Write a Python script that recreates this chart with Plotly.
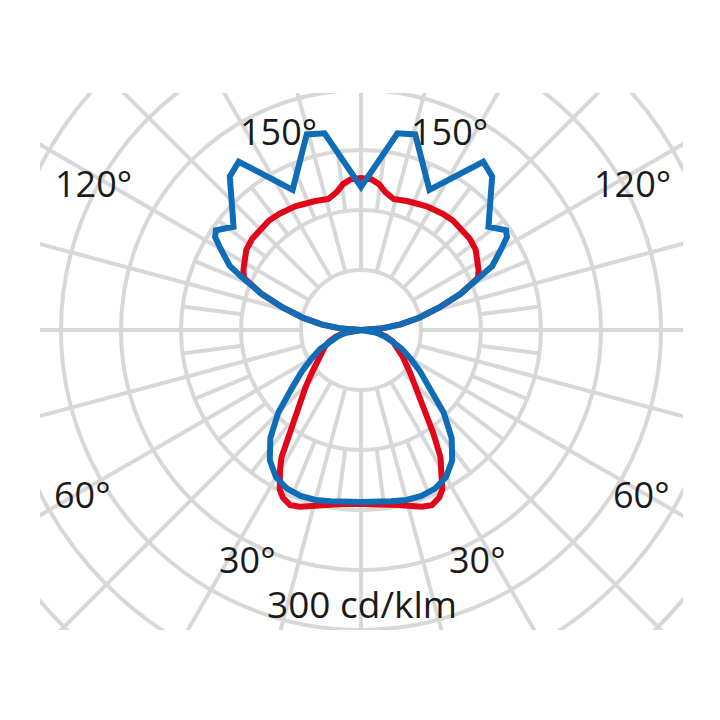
import numpy as np
import plotly.graph_objects as go

# luminous intensity distribution, gamma measured from nadir (deg), values in cd/klm
# one half-plane is given, the other half is its mirror image
RED_GAMMA = [0, 6, 12, 16, 19, 22, 25, 27, 30, 32, 35, 39, 44, 49, 57, 65, 70, 75, 80, 85, 90,
             94, 98, 102, 106, 110, 114, 117, 120, 125, 130, 135, 140, 145, 152, 160, 166,
             170, 173, 176, 180]
RED_CD = [174, 175, 179, 183, 187, 189, 185, 179, 162, 150, 126, 99, 80, 65, 50, 40, 34, 26, 17, 8, 0,
          20, 40, 60, 81, 106, 128, 132, 135, 140, 142, 142, 143, 142, 140, 137, 135,
          140, 147, 151, 152]

BLUE_GAMMA = [0, 5, 10, 15, 20, 25, 30, 35, 40, 45, 50, 55, 60, 65, 70, 75, 80, 85, 90,
              94, 98, 102, 106, 110, 114, 116, 120, 122.5, 124.5, 129, 139.5, 144, 154,
              164.5, 169.5, 180]
BLUE_CD = [172, 173, 174, 176, 176.5, 175, 170, 159, 141, 117, 90, 72, 57, 45, 33, 24, 15, 7, 0,
           20, 40, 60, 81, 106, 131, 146, 162, 173, 176, 164, 202, 208, 156,
           203, 200, 143]

RINGS = [60, 120, 180, 240, 300, 360, 420, 480]
SPOKE_STEP = 15
ANGLE_LABELS = ["150°", "150°", "120°", "120°", "60°", "60°", "30°", "30°"]
SCALE_LABEL = "300 cd/klm"

GRID = "#d8d8d8"
RED = "#e2061b"
BLUE = "#0f6cb6"
TEXT = "#1a1a1a"


def outline(gamma, cd):
    g = np.radians(np.asarray(gamma, dtype=float))
    r = np.asarray(cd, dtype=float)
    xr = r * np.sin(g)
    yr = -r * np.cos(g)
    x = np.concatenate([xr, -xr[::-1]])
    y = np.concatenate([yr, yr[::-1]])
    return x, y


def spoke(angle, r0, r1):
    a = np.radians(angle)
    return dict(
        type="line", xref="x", yref="y", layer="below",
        x0=r0 * np.sin(a), y0=-r0 * np.cos(a),
        x1=r1 * np.sin(a), y1=-r1 * np.cos(a),
        line=dict(color=GRID, width=4),
    )


shapes = []
for r in RINGS:
    shapes.append(dict(
        type="circle", xref="x", yref="y", layer="below",
        x0=-r, x1=r, y0=-r, y1=r,
        line=dict(color=GRID, width=4),
    ))
for a in np.arange(0, 360, SPOKE_STEP):
    shapes.append(spoke(a, RINGS[0], 600))
for a in np.arange(SPOKE_STEP / 2, 360, SPOKE_STEP):
    shapes.append(spoke(a, RINGS[1], RINGS[2]))

fig = go.Figure()

rx, ry = outline(RED_GAMMA, RED_CD)
fig.add_trace(go.Scatter(x=rx, y=ry, mode="lines", line=dict(color=RED, width=6), hoverinfo="skip"))

bx, by = outline(BLUE_GAMMA, BLUE_CD)
fig.add_trace(go.Scatter(x=bx, y=by, mode="lines", line=dict(color=BLUE, width=6), hoverinfo="skip"))

label_pos = [(-83, 199), (88, 199), (-268, 147), (271, 147),
             (-279, -164), (280, -164), (-114, -229), (116, -229)]
annotations = [
    dict(x=x, y=y, xref="x", yref="y", text=t, showarrow=False,
         xanchor="center", yanchor="middle",
         font=dict(family="Open Sans", size=36, color=TEXT))
    for t, (x, y) in zip(ANGLE_LABELS, label_pos)
]
annotations.append(dict(
    x=1, y=-273, xref="x", yref="y", text=SCALE_LABEL, showarrow=False,
    xanchor="center", yanchor="middle",
    font=dict(family="Open Sans", size=37, color=TEXT),
))

fig.update_layout(
    width=720,
    height=720,
    margin=dict(l=32, r=45, t=85, b=98),
    paper_bgcolor="white",
    plot_bgcolor="white",
    showlegend=False,
    shapes=shapes,
    annotations=annotations,
    xaxis=dict(range=[-321, 322], visible=False, fixedrange=True),
    yaxis=dict(range=[-300, 237], visible=False, fixedrange=True),
)

fig.write_html("out.html")
